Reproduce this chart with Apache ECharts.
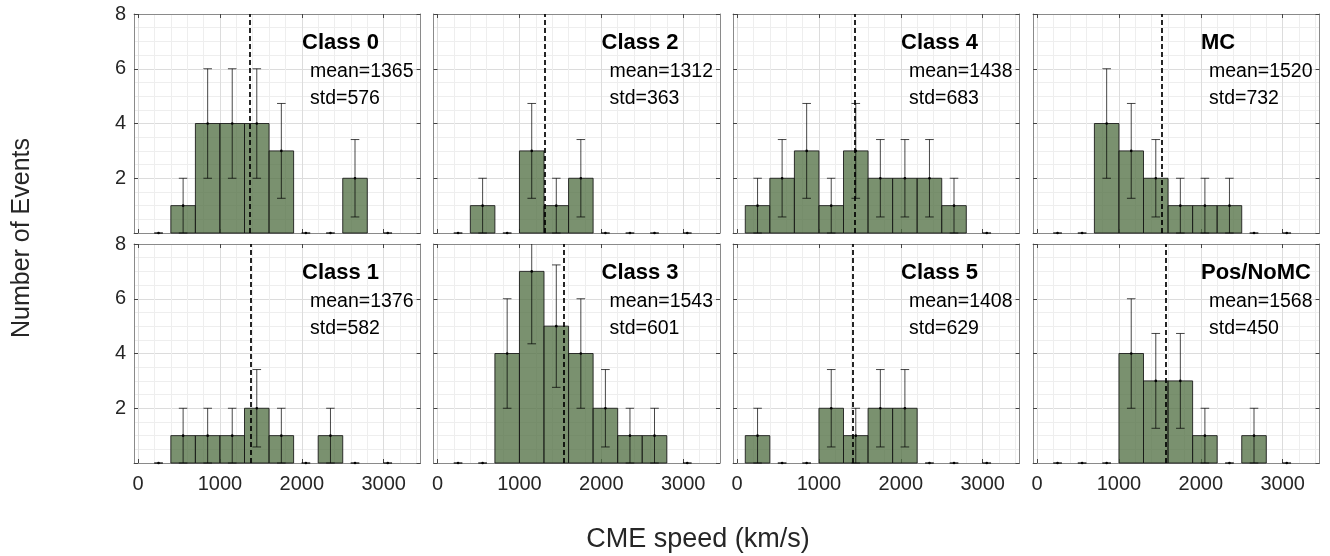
<!DOCTYPE html>
<html>
<head>
<meta charset="utf-8">
<script src="https://cdn.jsdelivr.net/npm/echarts@6/dist/echarts.min.js"></script>
<style>
html,body{margin:0;padding:0;background:#fff;}
#chart{width:1330px;height:556px;}
</style>
</head>
<body>
<div id="chart"></div>
<script>
// ---- data ----
const binCenters = [250, 550, 850, 1150, 1450, 1750, 2050, 2350, 2650, 3050];
const binWidth = 300;
const panelNames = ['Class 0', 'Class 2', 'Class 4', 'MC', 'Class 1', 'Class 3', 'Class 5', 'Pos/NoMC'];
const class0  = [0, 1, 4, 4, 4, 3, 0, 0, 2, 0];
const class2  = [0, 1, 0, 3, 1, 2, 0, 0, 0, 0];
const class4  = [1, 2, 3, 1, 3, 2, 2, 2, 1, 0];
const mc      = [0, 0, 4, 3, 2, 1, 1, 1, 0, 0];
const class1  = [0, 1, 1, 1, 2, 1, 0, 1, 0, 0];
const class3  = [0, 0, 4, 7, 5, 4, 2, 1, 1, 0];
const class5  = [1, 0, 0, 2, 1, 2, 2, 0, 0, 0];
const posNoMC = [0, 0, 0, 4, 3, 3, 1, 0, 1, 0];
const means = [1365, 1312, 1438, 1520, 1376, 1543, 1408, 1568];
const stds  = [576, 363, 683, 732, 582, 601, 629, 450];
const xTickLabels = [0, 1000, 2000, 3000];
const yTickLabels = [2, 4, 6, 8];
const xMinorGrid = [0, 200, 400, 600, 800, 1000, 1200, 1400, 1600, 1800, 2000, 2200, 2400, 2600, 2800, 3000, 3200, 3400];
const xRange = [-50, 3450];
const yRange = [0, 8];
const yLabel = 'Number of Events';
const xLabel = 'CME speed (km/s)';

const panels = [class0, class2, class4, mc, class1, class3, class5, posNoMC];

// ---- layout ----
const gridLefts = [134, 433.5, 733, 1033];
const gridTops = [14, 244];
const gridW = 286.5, gridH = 219;
const FONT = "'Liberation Sans', Arial, Helvetica, sans-serif";
const borderColor = '#8a8a8a';

const grids = [], xAxes = [], yAxes = [], series = [], graphics = [];

panels.forEach((counts, i) => {
  const row = i < 4 ? 0 : 1, col = i % 4;
  const left = gridLefts[col], top = gridTops[row];
  grids.push({left: left, top: top, width: gridW, height: gridH, containLabel: false});

  const baseX = {
    type: 'value', gridIndex: i, min: xRange[0], max: xRange[1],
    axisLine: {show: true, onZero: false, lineStyle: {color: borderColor, width: 1}},
    axisTick: {show: true, inside: true, length: 4, customValues: xTickLabels, lineStyle: {color: '#444'}},
    splitLine: {show: false}
  };
  xAxes.push(Object.assign({}, baseX, {
    position: 'bottom',
    axisLabel: {show: row === 1, customValues: xTickLabels, fontSize: 20, color: '#262626', fontFamily: FONT, margin: 11,
      formatter: v => String(v)}
  }));
  xAxes.push(Object.assign({}, baseX, {position: 'top', axisLabel: {show: false}}));

  const baseY = {
    type: 'value', gridIndex: i, min: yRange[0], max: yRange[1], interval: 2,
    axisLine: {show: true, onZero: false, lineStyle: {color: borderColor, width: 1}},
    axisTick: {show: true, inside: true, length: 4, lineStyle: {color: '#444'}}
  };
  yAxes.push(Object.assign({}, baseY, {
    position: 'left',
    axisLabel: {show: col === 0, fontSize: 20, color: '#262626', fontFamily: FONT, margin: 8,
      formatter: v => (yTickLabels.indexOf(v) >= 0 ? String(v) : '')},
    splitLine: {show: true, lineStyle: {color: '#dcdcdc', width: 1}},
    minorSplitLine: {show: true, lineStyle: {color: '#eeeeee', width: 1}},
    minorTick: {show: false, splitNumber: 4}
  }));
  yAxes.push(Object.assign({}, baseY, {position: 'right', axisLabel: {show: false}, splitLine: {show: false}}));

  const xi = 2 * i, yi = 2 * i;
  const pts = binCenters.map((c, k) => [c, counts[k], Math.sqrt(counts[k])]);

  // vertical grid lines
  series.push({
    type: 'line', xAxisIndex: xi, yAxisIndex: yi, data: pts.map(p => [p[0], p[1]]),
    showSymbol: false, lineStyle: {opacity: 0}, silent: true, z: 0, animation: false,
    markLine: {
      z: 0, silent: true, symbol: ['none', 'none'], label: {show: false}, animation: false,
      data: xMinorGrid.map(v => ({xAxis: v, lineStyle: {color: (v % 1000 === 0) ? '#dcdcdc' : '#eeeeee', width: 1, type: 'solid'}}))
    }
  });

  // bars
  series.push({
    type: 'custom', xAxisIndex: xi, yAxisIndex: yi, data: pts, z: 3, animation: false,
    encode: {x: 0, y: 1},
    renderItem: function (params, api) {
      const c = api.value(0), n = api.value(1);
      if (!(n > 0)) return null;
      const p0 = api.coord([c - binWidth / 2, n]);
      const p1 = api.coord([c + binWidth / 2, 0]);
      return {
        type: 'rect',
        shape: {x: p0[0], y: p0[1], width: p1[0] - p0[0], height: p1[1] - p0[1]},
        style: {fill: 'rgba(80,110,66,0.76)', stroke: 'rgba(20,20,20,0.85)', lineWidth: 1}
      };
    }
  });

  // error bars
  series.push({
    type: 'custom', xAxisIndex: xi, yAxisIndex: yi, data: pts, z: 4, animation: false,
    encode: {x: 0, y: 1},
    renderItem: function (params, api) {
      const c = api.value(0), n = api.value(1), e = api.value(2);
      const lo = n - e, hiRaw = n + e, hi = Math.min(hiRaw, yRange[1]);
      const pLo = api.coord([c, lo]), pHi = api.coord([c, hi]), pMid = api.coord([c, n]);
      const cap = 4.3;
      const st = {stroke: 'rgba(0,0,0,0.72)', lineWidth: 1};
      const ch = [
        {type: 'line', shape: {x1: pLo[0], y1: pLo[1], x2: pHi[0], y2: pHi[1]}, style: st},
        {type: 'line', shape: {x1: pLo[0] - cap, y1: pLo[1], x2: pLo[0] + cap, y2: pLo[1]}, style: st}
      ];
      if (hiRaw <= yRange[1]) {
        ch.push({type: 'line', shape: {x1: pHi[0] - cap, y1: pHi[1], x2: pHi[0] + cap, y2: pHi[1]}, style: st});
      }
      ch.push({type: 'circle', shape: {cx: pMid[0], cy: pMid[1], r: 1.3}, style: {fill: '#000'}});
      return {type: 'group', children: ch};
    }
  });

  // mean line
  series.push({
    type: 'line', xAxisIndex: xi, yAxisIndex: yi, data: pts.map(p => [p[0], p[1]]),
    showSymbol: false, lineStyle: {opacity: 0}, silent: true, z: 6, animation: false,
    markLine: {
      z: 6, silent: true, symbol: ['none', 'none'], label: {show: false}, animation: false,
      data: [{xAxis: means[i], lineStyle: {color: '#000', width: 1.7, type: [5, 3]}}]
    }
  });

  // annotations
  graphics.push({type: 'text', x: left + 168, y: top + 29, z: 10,
    style: {text: panelNames[i], fontSize: 22, fontWeight: 'bold', fontFamily: FONT, fill: '#000', verticalAlign: 'middle'}});
  graphics.push({type: 'text', x: left + 176, y: top + 57.5, z: 10,
    style: {text: 'mean=' + means[i], fontSize: 19.5, fontFamily: FONT, fill: '#000', verticalAlign: 'middle'}});
  graphics.push({type: 'text', x: left + 176, y: top + 85, z: 10,
    style: {text: 'std=' + stds[i], fontSize: 19.5, fontFamily: FONT, fill: '#000', verticalAlign: 'middle'}});
});

graphics.push({type: 'text', x: 22, y: 238, rotation: Math.PI / 2,
  style: {text: yLabel, fontSize: 25, fontFamily: FONT, fill: '#262626', align: 'center', verticalAlign: 'middle'}});
graphics.push({type: 'text', x: 698, y: 540,
  style: {text: xLabel, fontSize: 27, fontFamily: FONT, fill: '#262626', align: 'center', verticalAlign: 'middle'}});

const chart = echarts.init(document.getElementById('chart'), null, {renderer: 'canvas'});
chart.setOption({
  backgroundColor: '#fff',
  animation: false,
  grid: grids,
  xAxis: xAxes,
  yAxis: yAxes,
  series: series,
  graphic: graphics
});
</script>
</body>
</html>
